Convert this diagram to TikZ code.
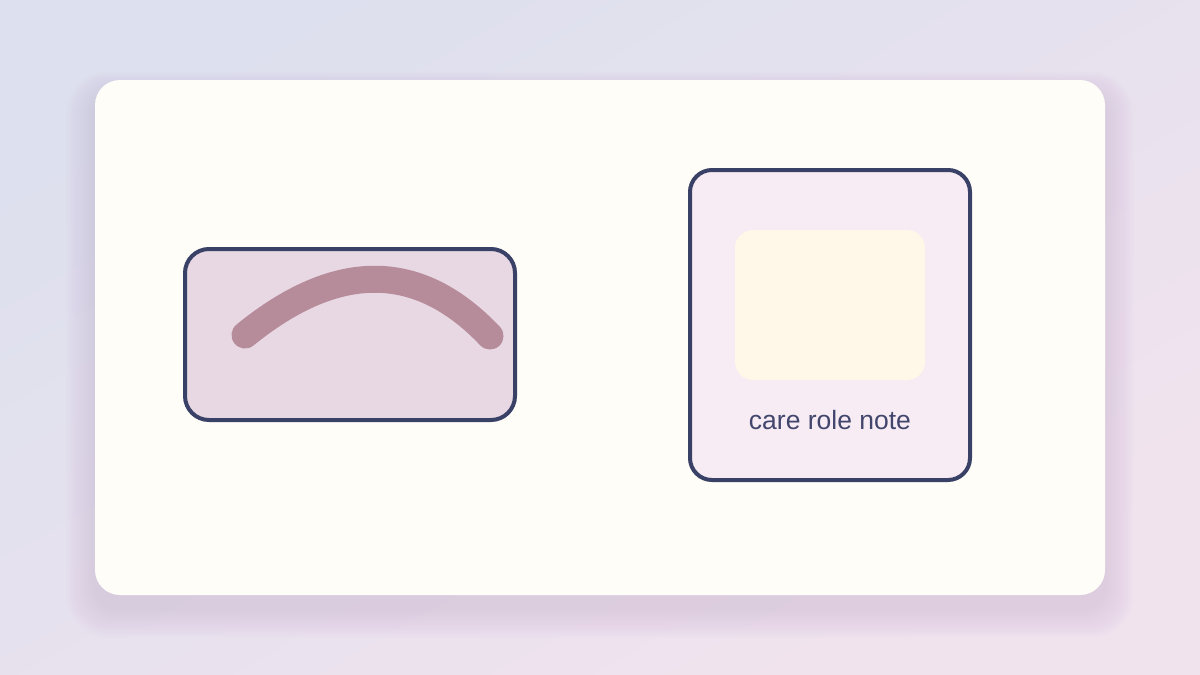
\documentclass[tikz,border=0pt]{standalone}
\usepackage{fontspec}
\setmainfont{Liberation Sans}
\definecolor{bgA}{RGB}{221,224,238}
\definecolor{bgB}{RGB}{241,227,238}
\definecolor{cardfill}{RGB}{255,253,248}
\definecolor{shadowc}{RGB}{150,130,175}
\definecolor{ink}{RGB}{58,65,102}
\definecolor{txt}{RGB}{66,70,108}
\definecolor{leftfill}{RGB}{232,216,227}
\definecolor{arcc}{RGB}{182,139,154}
\definecolor{rightfill}{RGB}{247,236,243}
\definecolor{notefill}{RGB}{255,247,232}
\begin{document}
\begin{tikzpicture}[x=1pt,y=-1pt,
  panel/.style={draw=ink, line width=4pt, rounded corners=24pt, inner sep=0pt},
  cardbox/.style={fill=cardfill, rounded corners=25pt, inner sep=0pt, minimum width=1010pt, minimum height=515pt},
  label/.style={text=txt, font=\fontsize{26.5}{30}\selectfont, anchor=base, inner sep=0pt}]
\useasboundingbox (0,0) rectangle (1200,675);
\shade[left color=bgA, right color=bgB, shading angle=30] (0,0) rectangle (1200,675);
% soft shadow
\foreach \i in {1,...,16}{
  \fill[shadowc, opacity=0.011, rounded corners=25pt+\i pt]
    (95-\i*1.8,80-\i*1.4+14) rectangle (1105+\i*1.8,595+\i*1.8+14);
}
\node[cardbox] (card) at (600,337.5) {};
% left panel
\node[panel, fill=leftfill, minimum width=330pt, minimum height=171pt] (left) at (350,334.5) {};
\draw[arcc, line width=27pt, line cap=round] (245,335) .. controls (337,260.3) and (418.7,260.7) .. (490,336);
% right panel
\node[panel, fill=rightfill, rounded corners=22pt, minimum width=280pt, minimum height=310pt] (right) at (830,325) {};
\node[fill=notefill, rounded corners=18pt, inner sep=0pt, minimum width=190pt, minimum height=150pt] (note) at (830,305) {};
\node[label] (caption) at (830,429) {care role note};
\end{tikzpicture}
\end{document}
